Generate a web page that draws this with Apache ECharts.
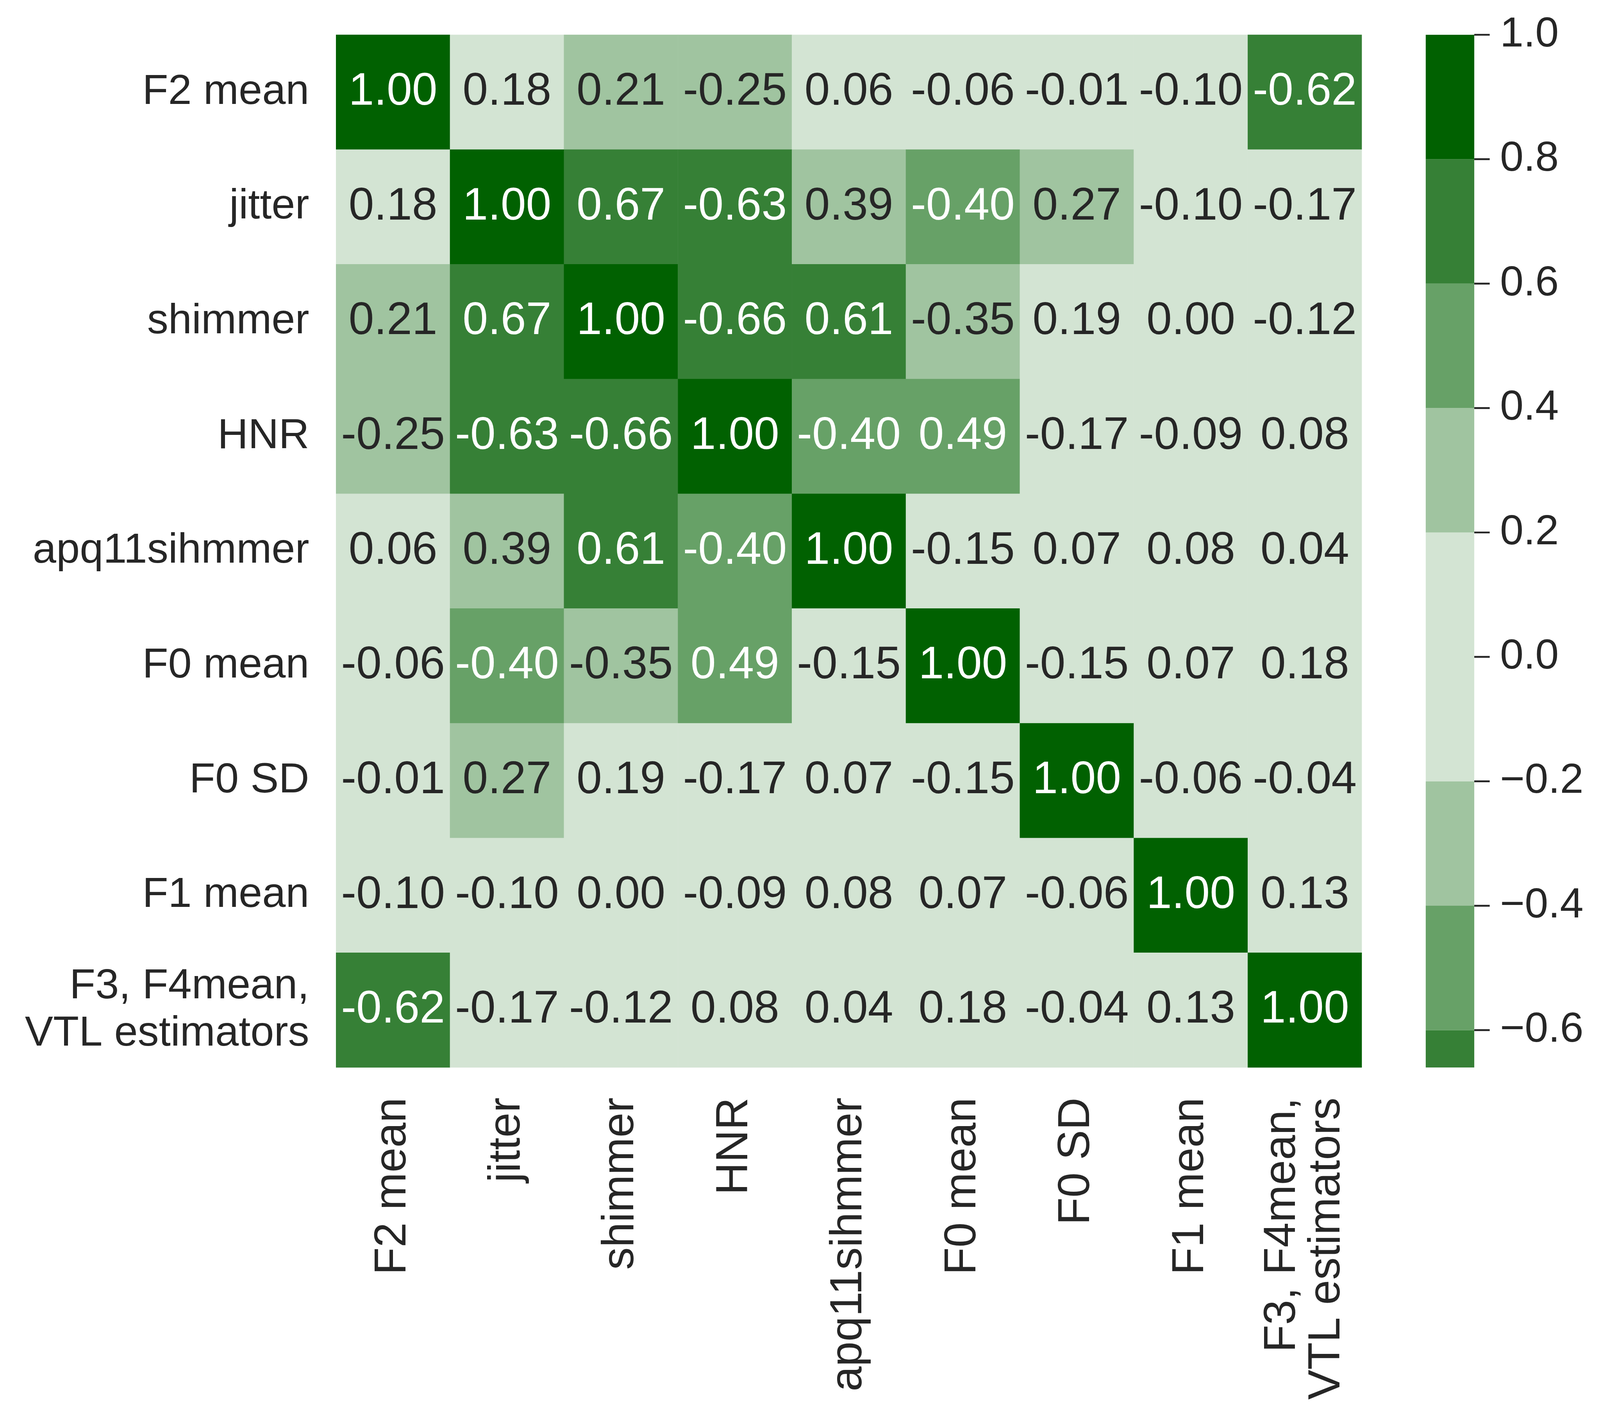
<!DOCTYPE html>
<html>
<head>
<meta charset="utf-8">
<script src="https://cdn.jsdelivr.net/npm/echarts@6/dist/echarts.min.js"></script>
<style>
html,body{margin:0;padding:0;background:#ffffff;overflow:hidden;}
#chart{width:100vw;height:100vh;}
</style>
</head>
<body>
<div id="chart"></div>
<script>
// ---- data ----
const labels = ['F2 mean','jitter','shimmer','HNR','apq11sihmmer','F0 mean','F0 SD','F1 mean','F3, F4mean,\nVTL estimators'];
const rowF2mean  = [ 1.00, 0.18, 0.21,-0.25, 0.06,-0.06,-0.01,-0.10,-0.62];
const rowJitter  = [ 0.18, 1.00, 0.67,-0.63, 0.39,-0.40, 0.27,-0.10,-0.17];
const rowShimmer = [ 0.21, 0.67, 1.00,-0.66, 0.61,-0.35, 0.19, 0.00,-0.12];
const rowHNR     = [-0.25,-0.63,-0.66, 1.00,-0.40, 0.49,-0.17,-0.09, 0.08];
const rowApq11   = [ 0.06, 0.39, 0.61,-0.40, 1.00,-0.15, 0.07, 0.08, 0.04];
const rowF0mean  = [-0.06,-0.40,-0.35, 0.49,-0.15, 1.00,-0.15, 0.07, 0.18];
const rowF0SD    = [-0.01, 0.27, 0.19,-0.17, 0.07,-0.15, 1.00,-0.06,-0.04];
const rowF1mean  = [-0.10,-0.10, 0.00,-0.09, 0.08, 0.07,-0.06, 1.00, 0.13];
const rowF3F4    = [-0.62,-0.17,-0.12, 0.08, 0.04, 0.18,-0.04, 0.13, 1.00];
const corrRows = [rowF2mean,rowJitter,rowShimmer,rowHNR,rowApq11,rowF0mean,rowF0SD,rowF1mean,rowF3F4];

const cbMin = -0.66, cbMax = 1.0;
const cbTicks = [-0.6,-0.4,-0.2,0.0,0.2,0.4,0.6,0.8,1.0];
const cbEdges = [-0.66,-0.6,-0.4,-0.2,0.2,0.4,0.6,0.8,1.0];

// ---- style ----
const absThresholds = [0.2,0.4,0.6,0.8];
const palette = ['#d3e4d3','#a0c4a0','#67a167','#368036','#016101'];
const textColors = ['#262626','#262626','#ffffff','#ffffff','#ffffff'];
const FONT = 'Liberation Sans, Arial, Helvetica, sans-serif';
const TXT = '#262626';

// design size of the reference; scale to the actual viewport
const DW = 4352, DH = 3647;
const VW = window.innerWidth || DW, VH = window.innerHeight || DH;
const sx = VW / DW, sy = VH / DH;

function binOf(v){
  const a = Math.abs(v) + 1e-9;
  let k = 0;
  absThresholds.forEach(t => { if (a >= t) k++; });
  return k;
}

const heatData = [];
corrRows.forEach((row, r) => {
  row.forEach((v, c) => {
    const b = binOf(v);
    heatData.push({
      value: [c, r, v],
      itemStyle: { color: palette[b] },
      label: { color: textColors[b] }
    });
  });
});

const cbData = [];
for (let i = 0; i < cbEdges.length - 1; i++) {
  const lo = cbEdges[i], hi = cbEdges[i+1];
  cbData.push({ value: [lo, hi], itemStyle: { color: palette[binOf((lo+hi)/2)] } });
}
const cbTickData = cbTicks.map(v => [1, v]);

const G = { left: 914*sx, top: 89*sy, width: 2790*sx, height: 2643*sy };
const CB = { left: 3878*sx, top: 89*sy, width: 132*sx, height: 2643*sy };
const tickLen = 42*sx, tickW = 5*Math.min(sx, sy);

const chart = echarts.init(document.getElementById('chart'), null, { renderer: 'canvas' });
chart.setOption({
  backgroundColor: '#ffffff',
  animation: false,
  textStyle: { fontFamily: FONT },
  grid: [
    { left: G.left, top: G.top, width: G.width, height: G.height, containLabel: false },
    { left: CB.left, top: CB.top, width: CB.width, height: CB.height, containLabel: false }
  ],
  xAxis: [
    {
      gridIndex: 0, type: 'category', data: labels, position: 'bottom',
      axisLine: { show: false }, axisTick: { show: false }, splitLine: { show: false },
      axisLabel: { rotate: 90, margin: 77*sy, fontSize: 115*sy, color: TXT, fontFamily: FONT, lineHeight: 121*sx, interval: 0 }
    },
    { gridIndex: 1, type: 'value', min: 0, max: 1, show: false }
  ],
  yAxis: [
    {
      gridIndex: 0, type: 'category', data: labels, inverse: true,
      axisLine: { show: false }, axisTick: { show: false }, splitLine: { show: false },
      axisLabel: { margin: 73*sx, fontSize: 115*sx, color: TXT, fontFamily: FONT, lineHeight: 121*sy, interval: 0 }
    },
    {
      gridIndex: 1, type: 'value', min: cbMin, max: cbMax, position: 'right',
      axisLine: { show: false, onZero: false }, splitLine: { show: false },
      axisTick: { show: false },
      axisLabel: {
        show: true, customValues: cbTicks, margin: 70*sx, fontSize: 115*sx, color: TXT, fontFamily: FONT,
        formatter: v => (v < 0 ? '\u2212' : '') + Math.abs(v).toFixed(1)
      }
    }
  ],
  series: [
    {
      type: 'heatmap', xAxisIndex: 0, yAxisIndex: 0, data: heatData,
      itemStyle: { borderWidth: 0 },
      label: {
        show: true, fontSize: 124*sx, fontFamily: FONT,
        formatter: p => p.value[2].toFixed(2)
      },
      emphasis: { disabled: true }
    },
    {
      type: 'custom', xAxisIndex: 1, yAxisIndex: 1, data: cbData,
      renderItem: function (params, api) {
        const lo = api.value(0), hi = api.value(1);
        const p1 = api.coord([0, hi]);
        const p2 = api.coord([1, lo]);
        return {
          type: 'rect',
          shape: { x: p1[0], y: p1[1], width: p2[0] - p1[0], height: p2[1] - p1[1] },
          style: { fill: api.visual('color') }
        };
      },
      encode: { x: [], y: [0, 1] },
      silent: true
    },
    {
      type: 'custom', xAxisIndex: 1, yAxisIndex: 1, data: cbTickData, z: 5,
      renderItem: function (params, api) {
        const p = api.coord([api.value(0), api.value(1)]);
        return {
          type: 'line',
          shape: { x1: p[0], y1: p[1], x2: p[0] + tickLen, y2: p[1] },
          style: { stroke: TXT, lineWidth: tickW }
        };
      },
      encode: { x: 0, y: 1 },
      silent: true
    }
  ]
});
</script>
</body>
</html>
